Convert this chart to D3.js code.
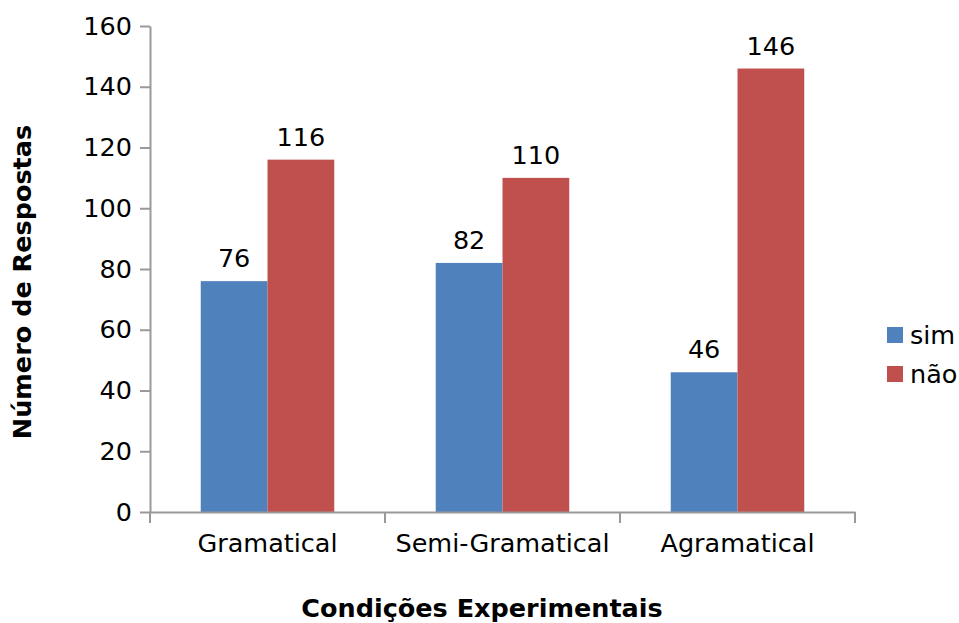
<!DOCTYPE html>
<html><head><meta charset="utf-8">
<script src="https://cdn.jsdelivr.net/npm/d3@7"></script>
<style>body{margin:0;background:#fff}svg{display:block}text{font-family:"DejaVu Sans",sans-serif}</style>
</head><body><svg id="c" width="959" height="623"></svg>
<script>
const categories = ["Gramatical", "Semi-Gramatical", "Agramatical"];
const seriesNames = ["sim", "não"];
const simValues = [76, 82, 46];
const naoValues = [116, 110, 146];
const yTicks = [0, 20, 40, 60, 80, 100, 120, 140, 160];
const colors = ["#4F81BD", "#C0504D"];

(function(){
const svg = d3.select("#c");
const mLeft = 150, mRight = 855, mTop = 26, mBottom = 512;
const x = d3.scaleBand().domain(categories).range([mLeft, mRight]).paddingInner(0).paddingOuter(0);
const x1 = d3.scaleBand().domain(seriesNames).range([0, x.bandwidth()]).paddingOuter(0.76).paddingInner(0);
const y = d3.scaleLinear().domain([0, 160]).range([mBottom, mTop]);
const axisColor = "#999";
const fs = 25.5;

const data = categories.map((c, i) => ({c, vals: [simValues[i], naoValues[i]]}));
const g = svg.append("g");
data.forEach(d => {
  d.vals.forEach((v, j) => {
    const bx = x(d.c) + x1(seriesNames[j]);
    g.append("rect").attr("x", bx).attr("y", y(v)).attr("width", x1.bandwidth()).attr("height", y(0) - y(v)).attr("fill", colors[j]);
    g.append("text").attr("x", bx + x1.bandwidth() / 2).attr("y", y(v) - 14).attr("text-anchor", "middle").attr("font-size", fs).attr("fill", "#000").text(v);
  });
});

const yAxis = svg.append("g").attr("transform", `translate(${mLeft},0)`).call(d3.axisLeft(y).tickValues(yTicks).tickSize(10).tickPadding(8).tickSizeOuter(0));
yAxis.selectAll("path, line").attr("stroke", axisColor).attr("stroke-width", 2);
yAxis.selectAll("text").attr("font-size", fs).attr("fill", "#000").attr("font-family", "DejaVu Sans");

const xAxis = svg.append("g").attr("transform", `translate(0,${mBottom})`).call(d3.axisBottom(x).tickSize(0).tickPadding(22).tickSizeOuter(0));
xAxis.selectAll("path").attr("stroke", axisColor).attr("stroke-width", 2);
xAxis.selectAll("text").attr("font-size", fs).attr("fill", "#000").attr("font-family", "DejaVu Sans");
const bounds = categories.map(c => x(c)).concat([mRight]);
xAxis.selectAll(".bnd").data(bounds).enter().append("line").attr("x1", d => d).attr("x2", d => d).attr("y1", 0).attr("y2", 11).attr("stroke", axisColor).attr("stroke-width", 2);

svg.append("text").attr("x", 482).attr("y", 617).attr("text-anchor", "middle").attr("font-size", fs).attr("font-weight", "bold").text("Condições Experimentais");
svg.append("text").attr("transform", `translate(31,282) rotate(-90)`).attr("text-anchor", "middle").attr("font-size", fs).attr("font-weight", "bold").text("Número de Respostas");

const leg = svg.append("g");
seriesNames.forEach((s, i) => {
  const ly = 336 + i * 39;
  leg.append("rect").attr("x", 887).attr("y", ly - 9).attr("width", 16).attr("height", 16).attr("fill", colors[i]);
  leg.append("text").attr("x", 910).attr("y", ly + 8).attr("font-size", fs).attr("fill", "#000").text(s);
});
})();
</script></body></html>
